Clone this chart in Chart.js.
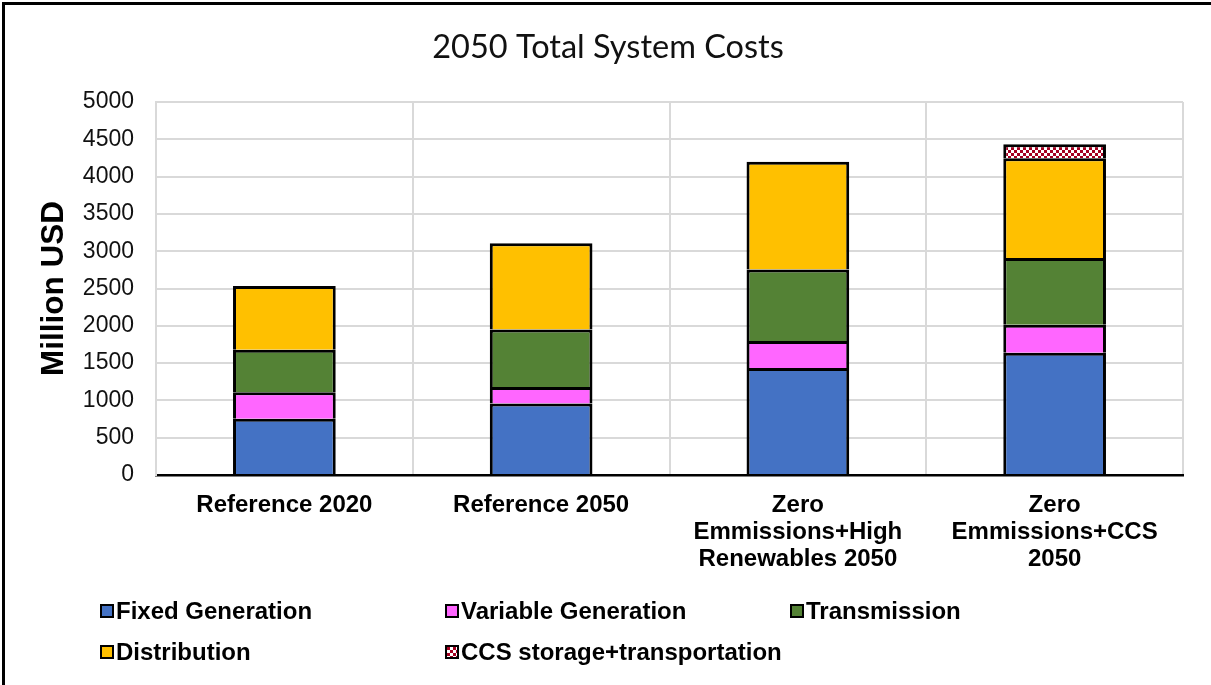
<!DOCTYPE html>
<html>
<head>
<meta charset="utf-8">
<title>2050 Total System Costs</title>
<script src="https://cdn.jsdelivr.net/npm/chart.js@4.4.0/dist/chart.umd.min.js"></script>
<style>
  html, body { margin: 0; padding: 0; background: #fff; }
  #wrap { position: relative; width: 1211px; height: 685px; overflow: hidden; }
  #frame { position: absolute; left: 2px; top: 2px; width: 1300px; height: 800px;
           border-left: 3px solid #000; border-top: 3px solid #000; pointer-events: none; }
  #legend { position: absolute; left: 0; top: 0; width: 1211px; height: 685px; pointer-events: none;
            font-family: "Liberation Sans", Arial, sans-serif; font-weight: bold; font-size: 24px; color: #000; }
  .item { position: absolute; height: 30px; display: flex; align-items: center; white-space: nowrap; }
  .box { width: 10px; height: 10px; border: 2.5px solid #000; margin-right: 2px; }
</style>
</head>
<body>
<div id="wrap">
  <canvas id="costChart" width="1211" height="685"></canvas>
  <div id="legend"></div>
  <div id="frame"></div>
</div>
<script>
// values (Million USD)
const categories = [
    'Reference 2020',
    'Reference 2050',
    ['Zero', 'Emmissions+High', 'Renewables 2050'],
    ['Zero', 'Emmissions+CCS', '2050']
];
const seriesNames = ['Fixed Generation', 'Variable Generation', 'Transmission', 'Distribution', 'CCS storage+transportation'];
const fixedGeneration = [755, 960, 1435, 1640];
const variableGeneration = [355, 220, 360, 375];
const transmission = [570, 770, 960, 895];
const distribution = [855, 1155, 1445, 1335];
const ccsStorage = [0, 0, 0, 190];
const yTicks = [0, 500, 1000, 1500, 2000, 2500, 3000, 3500, 4000, 4500, 5000];

const colors = ['#4472C4', '#FF66FF', '#548235', '#FFC000'];

const canvas = document.getElementById('costChart');
const ctx = canvas.getContext('2d');

// small red/white checker tile for the CCS series
const tile = document.createElement('canvas');
tile.width = 6;
tile.height = 6;
const tctx = tile.getContext('2d');
tctx.fillStyle = '#ffffff';
tctx.fillRect(0, 0, 6, 6);
tctx.fillStyle = '#A50021';
tctx.fillRect(0, 0, 3, 3);
tctx.fillRect(3, 3, 3, 3);
const checker = ctx.createPattern(tile, 'repeat');

const seriesData = [fixedGeneration, variableGeneration, transmission, distribution, ccsStorage];

const datasets = seriesData.map((data, i) => ({
    label: seriesNames[i],
    data,
    backgroundColor: i < 4 ? colors[i] : checker,
    borderColor: '#000',
    borderWidth: { top: 3, left: 3, right: 3, bottom: 0 },
    borderSkipped: false,
    categoryPercentage: 1,
    barPercentage: 0.4
}));

const chart = new Chart(ctx, {
    type: 'bar',
    data: { labels: categories, datasets },
    options: {
        responsive: false,
        animation: false,
        layout: { padding: { top: 0, right: 28, bottom: 115, left: 33 } },
        plugins: {
            legend: { display: false },
            tooltip: { enabled: false },
            title: {
                display: true,
                text: '2050 Total System Costs',
                color: '#111',
                font: { family: 'Lato', size: 32.5, weight: 'normal' },
                padding: { top: 28, bottom: 35 }
            }
        },
        scales: {
            x: {
                stacked: true,
                grid: { color: '#d9d9d9', lineWidth: 2, drawTicks: false },
                border: { color: '#000', width: 2.5 },
                ticks: {
                    color: '#000',
                    padding: 17,
                    maxRotation: 0,
                    autoSkip: false,
                    font: { family: '"Liberation Sans", Arial', size: 24, weight: 'bold', lineHeight: 1.12 }
                },
                afterFit: s => { s.height = 95; }
            },
            y: {
                stacked: true,
                min: 0,
                max: 5000,
                afterBuildTicks: s => { s.ticks = yTicks.map(v => ({ value: v })); },
                grid: { color: '#d9d9d9', lineWidth: 2, drawTicks: false },
                border: { color: '#d9d9d9', width: 2 },
                ticks: {
                    color: '#111',
                    padding: 22,
                    font: { family: '"Liberation Sans", Arial', size: 23 },
                    callback: v => String(v)
                },
                title: {
                    display: true,
                    text: 'Million USD',
                    color: '#000',
                    padding: { top: 2, bottom: 0 },
                    font: { family: '"Liberation Sans", Arial', size: 31.5, weight: 'bold', lineHeight: 1.2 }
                },
                afterFit: s => { s.width = 123; }
            }
        }
    }
});

// legend laid out in the same three columns as the original
const legendSpots = [[100, 596], [445, 596], [790, 596], [100, 637], [445, 637]];
const legendBox = document.getElementById('legend');
chart.data.datasets.forEach((ds, i) => {
    const item = document.createElement('div');
    item.className = 'item';
    item.style.left = legendSpots[i][0] + 'px';
    item.style.top = legendSpots[i][1] + 'px';
    const box = document.createElement('span');
    box.className = 'box';
    if (i < 4) {
        box.style.background = colors[i];
    } else {
        box.style.backgroundImage = 'url(' + tile.toDataURL() + ')';
    }
    item.appendChild(box);
    item.appendChild(document.createTextNode(ds.label));
    legendBox.appendChild(item);
});
</script>
</body>
</html>
